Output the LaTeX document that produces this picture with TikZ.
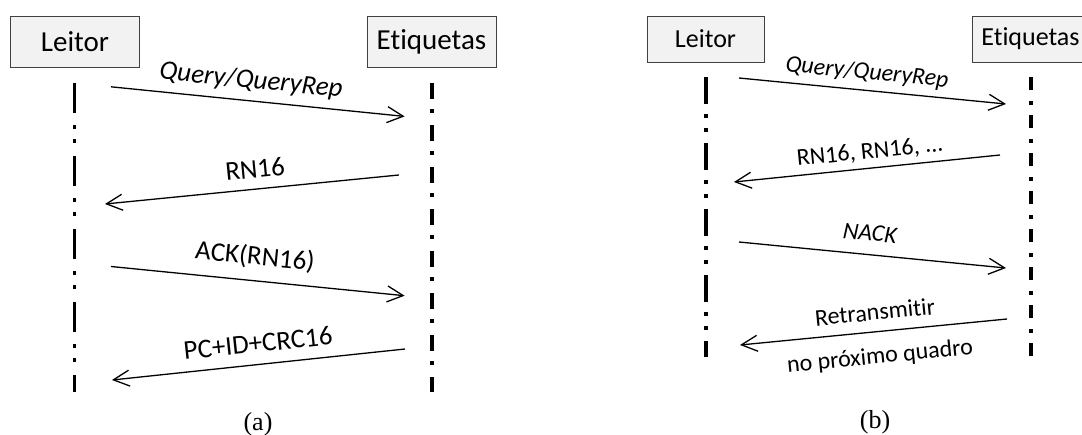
\documentclass[tikz,border=0pt]{standalone}
\usepackage{fontspec}
\setmainfont{Carlito}[RawFeature={-liga;-clig;-dlig}]
\newfontfamily\capfont{Liberation Serif}
\usetikzlibrary{arrows.meta}
\tikzset{
  actor/.style={draw=black!75, fill=black!5, line width=0.9pt, inner sep=0pt},
  actorA/.style={actor, minimum width=129pt, minimum height=51pt, font=\fontsize{29}{31}\selectfont},
  actorB/.style={actor, minimum width=117pt, minimum height=46pt, font=\fontsize{26}{28}\selectfont},
  msg/.style={line width=1.3pt, -{Straight Barb[length=16pt,width=16pt]}},
  lblA/.style={inner sep=0pt, font=\fontsize{27}{29}\selectfont},
  lblB/.style={inner sep=0pt, font=\fontsize{24}{26}\selectfont},
  lifeLA/.style={line width=3.5pt, dash pattern=on 30pt off 12pt on 4pt off 10pt on 4pt off 13pt},
  lifeRA/.style={line width=3.5pt, dash pattern=on 16pt off 10pt on 4pt off 12pt},
  lifeLB/.style={line width=3.2pt, dash pattern=on 27pt off 10pt on 4pt off 10pt on 4pt off 11pt},
  lifeRB/.style={line width=3.2pt, dash pattern=on 13pt off 11pt on 4pt off 10pt},
  caption/.style={inner sep=0pt, font=\capfont\fontsize{26}{28}\selectfont}
}
\begin{document}
\begin{tikzpicture}[x=1pt,y=-1pt]
\clip (0,0) rectangle (1082,434);
% ---------- panel (a) ----------
\node[actorA] (leitorA) at (75,42) {Leitor};
\node[actorA] (etiqA) at (431.5,42) {Etiquetas};
\coordinate (lAtop) at (74.5,83);
\coordinate (lAbot) at (74.5,392);
\coordinate (eAtop) at (432,83);
\coordinate (eAbot) at (432,392);
\draw[lifeLA] (lAtop) -- (lAbot);
\draw[lifeRA] (eAtop) -- (eAbot);

\coordinate (a1s) at (111,86.8);   \coordinate (a1e) at (404.6,116.4);
\coordinate (a2s) at (398.8,175);  \coordinate (a2e) at (105,204);
\coordinate (a3s) at (111,266.5);  \coordinate (a3e) at (404.6,295.7);
\coordinate (a4s) at (405,349);    \coordinate (a4e) at (112,380);
\draw[msg] (a1s) -- (a1e);
\draw[msg] (a2s) -- (a2e);
\draw[msg] (a3s) -- (a3e);
\draw[msg] (a4s) -- (a4e);
\node[lblA, rotate=-5.7] (la1) at (251,81) {\itshape Query/QueryRep};
\node[lblA, rotate=5.6] (la2) at (255,168.7) {RN16};
\node[lblA, rotate=-5.7] (la3) at (255,256.8) {ACK(RN16)};
\node[lblA, rotate=6] (la4) at (258,343) {PC+ID+CRC16};
\node[caption] (capA) at (258,424) {(a)};

% ---------- panel (b) ----------
\node[actorB] (leitorB) at (705.5,39) {Leitor};
\node[actorB] (etiqB) at (1030.5,39) {Etiquetas};
\coordinate (lBtop) at (706,77);
\coordinate (lBbot) at (706,357);
\coordinate (eBtop) at (1031,77);
\coordinate (eBbot) at (1031,357);
\draw[lifeLB] (lBtop) -- (lBbot);
\draw[lifeRB] (eBtop) -- (eBbot);

\coordinate (b1s) at (739,78);   \coordinate (b1e) at (1006,104);
\coordinate (b2s) at (1000,155); \coordinate (b2e) at (734,182);
\coordinate (b3s) at (739,242);  \coordinate (b3e) at (1006,268);
\coordinate (b4s) at (1007,319); \coordinate (b4e) at (740,345);
\draw[msg] (b1s) -- (b1e);
\draw[msg] (b2s) -- (b2e);
\draw[msg] (b3s) -- (b3e);
\draw[msg] (b4s) -- (b4e);
\node[lblB, rotate=-5.6] (lb1) at (867,73) {\itshape Query/QueryRep};
\node[lblB, rotate=5.8] (lb2) at (870,152) {RN16, RN16, ...};
\node[lblB, rotate=-5.6] (lb3) at (870,233) {\itshape NACK};
\node[lblB, rotate=5.6] (lb4) at (875,312) {Retransmitir};
\node[lblB, rotate=5.6] (lb5) at (880,357) {no próximo quadro};
\node[caption] (capB) at (875,422) {(b)};
\end{tikzpicture}
\end{document}
